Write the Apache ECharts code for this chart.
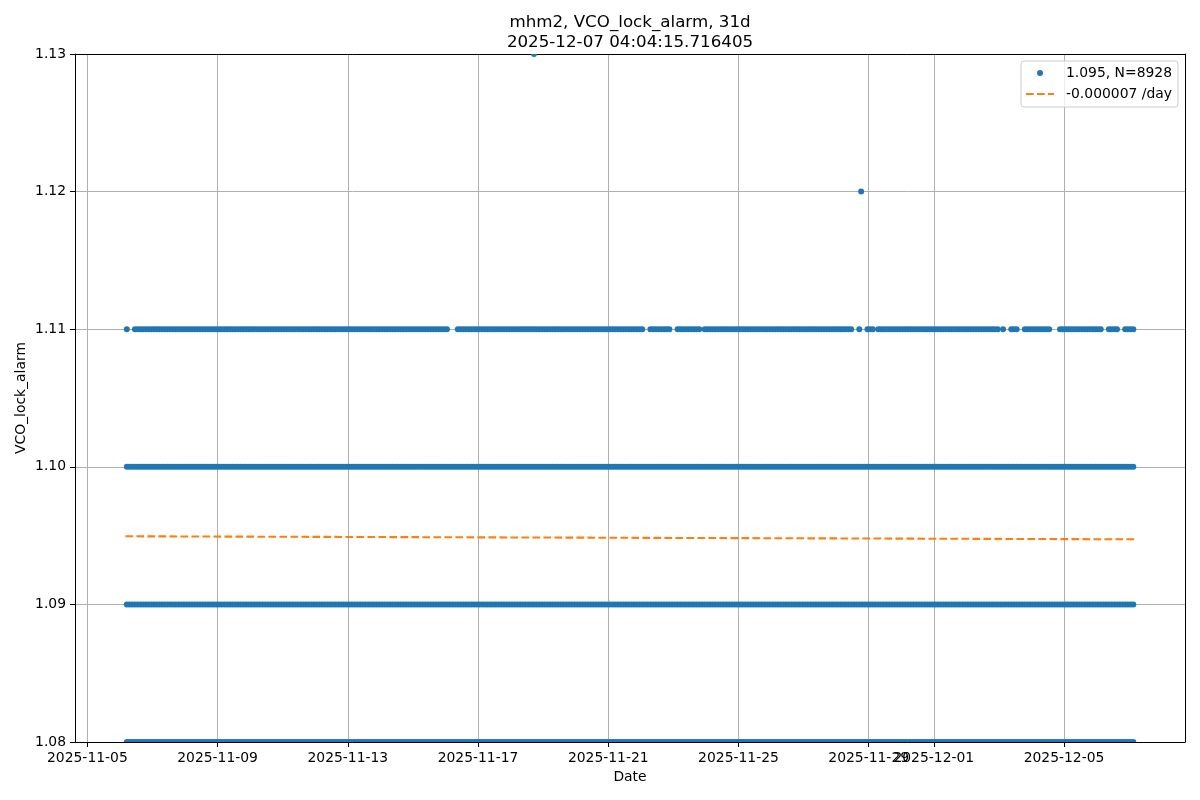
<!DOCTYPE html>
<html>
<head>
<meta charset="utf-8">
<script src="https://cdn.jsdelivr.net/npm/echarts@6/dist/echarts.min.js"></script>
<style>html,body{margin:0;padding:0;background:#fff}#chart{width:1200px;height:800px}</style>
</head>
<body>
<div id="chart"></div>
<script>
// ---------------- data ----------------
const titleText = 'mhm2, VCO_lock_alarm, 31d\n2025-12-07 04:04:15.716405';
const xAxisTitle = 'Date';
const yAxisTitle = 'VCO_lock_alarm';
const xTickLabels = ['2025-11-05', '2025-11-09', '2025-11-13', '2025-11-17', '2025-11-21',
                     '2025-11-25', '2025-11-29', '2025-12-01', '2025-12-05'];
const yTickValues = [1.08, 1.09, 1.10, 1.11, 1.12, 1.13];
const dataStart = '2025-11-06T04:04:15Z';
const dataEnd = '2025-12-07T03:59:15Z';
const binHours = 2; // each mask character = one 2-hour bin, '1' = dots visible there

// value levels seen in the picture
const levelValues = [1.08, 1.09, 1.10, 1.11];
// presence of dots per level, one 12-character string per day (31 days)
const mask108 = [
  '111111111111','111111111111','111111111111','111111111111','111111111111','111111111111',
  '111111111111','111111111111','111111111111','111111111111','111111111111','111111111111',
  '111111111111','111111111111','111111111111','111111111111','111111111111','111111111111',
  '111111111111','111111111111','111111111111','111111111111','111111111111','111111111111',
  '111111111111','111111111111','111111111111','111111111111','111111111111','111111111111',
  '111111111111'];
const mask109 = [
  '111111111111','111111111111','111111111111','111111111111','111111111111','111111111111',
  '111111111111','111111111111','111111111111','111111111111','111111111111','111111111111',
  '111111111111','111111111111','111111111111','111111111111','111111111111','111111111111',
  '111111111111','111111111111','111111111111','111111111111','111111111111','111111111111',
  '111111111111','111111111111','111111111111','111111111111','111111111111','111111111111',
  '111111111111'];
const mask110 = [
  '111111111111','111111111111','111111111111','111111111111','111111111111','111111111111',
  '111111111111','111111111111','111111111111','111111111111','111111111111','111111111111',
  '111111111111','111111111111','111111111111','111111111111','111111111111','111111111111',
  '111111111111','111111111111','111111111111','111111111111','111111111111','111111111111',
  '111111111111','111111111111','111111111111','111111111111','111111111111','111111111111',
  '111111111111'];
const mask111 = [
  '100111111111','111111111111','111111111111','111111111111','111111111111','111111111111',
  '111111111111','111111111111','111111111111','111111111110','001111111111','111111111111',
  '111111111111','111111111111','111111111111','111111111110','011111111001','111111110111',
  '111111111111','111111111111','111111111111','111111111111','111100100111','011111111111',
  '111111111111','111111111111','111111111101','001110011111','111110001111','111111111111',
  '001111001111'];

// isolated points
const outlierTimes = ['2025-11-28T18:25:00Z'];
const outlierValues = [1.12];
const topEdgeTimes = ['2025-11-18T17:15:00Z'];
const topEdgeValues = [1.13];

// linear trend
const trendValues = [1.09495, 1.09473];

const scatterName = '1.095, N=8928';
const trendName = '-0.000007 /day';

// ---------------- build ----------------
const HOUR = 3600e3;
const startMs = Date.parse(dataStart);
const endMs = Date.parse(dataEnd);
const span = endMs - startMs;
const xMin = startMs - 0.05 * span;
const xMax = endMs + 0.05 * span;
const xTickMs = xTickLabels.map(s => Date.parse(s + 'T00:00:00Z'));

function levelPoints(mask, level) {
  const pts = [];
  mask.join('').split('').forEach((c, i) => {
    if (c === '1') pts.push([startMs + (i + 0.5) * binHours * HOUR, level]);
  });
  return pts;
}
const masks = [mask108, mask109, mask110, mask111];
const bottomPts = levelPoints(masks[0], levelValues[0]);
let innerPts = [];
for (let k = 1; k < masks.length; k++) innerPts = innerPts.concat(levelPoints(masks[k], levelValues[k]));
outlierTimes.forEach((t, i) => innerPts.push([Date.parse(t), outlierValues[i]]));
const topPts = topEdgeTimes.map((t, i) => [Date.parse(t), topEdgeValues[i]]);

const FONT = 'DejaVu Sans';
const BLUE = '#1f77b4';
const ORANGE = '#ff7f0e';
const DOT = 6;
const SPINE = {show: true, onZero: false, lineStyle: {color: '#000', width: 1}};
const yMin = yTickValues[0];
const yMax = yTickValues[yTickValues.length - 1];

const chart = echarts.init(document.getElementById('chart'), null, {renderer: 'canvas'});
chart.setOption({
  animation: false,
  backgroundColor: '#ffffff',
  textStyle: {fontFamily: FONT},
  title: {
    text: titleText,
    left: 625,
    top: 8,
    textAlign: 'center',
    textStyle: {fontFamily: FONT, fontSize: 16.7, fontWeight: 'normal', color: '#000', lineHeight: 19.5}
  },
  legend: {
    orient: 'vertical',
    right: 22,
    top: 61,
    itemWidth: 28,
    itemHeight: DOT,
    itemGap: 5,
    padding: [4, 6, 5, 4],
    backgroundColor: 'rgba(255,255,255,0.8)',
    borderColor: '#cccccc',
    borderWidth: 1,
    borderRadius: 3,
    textStyle: {fontFamily: FONT, fontSize: 13.9, color: '#000', lineHeight: 16, padding: [0, 0, 0, 7]},
    data: [
      {name: scatterName, icon: 'circle'},
      {name: trendName, itemStyle: {color: 'rgba(0,0,0,0)', borderWidth: 0, opacity: 0}}
    ]
  },
  grid: {left: 75, right: 15, top: 54, bottom: 58, containLabel: false, outerBoundsMode: 'none', show: false},
  xAxis: [{
    type: 'value',
    min: xMin,
    max: xMax,
    name: xAxisTitle,
    nameLocation: 'middle',
    nameGap: 28,
    nameMoveOverlap: false,
    nameTextStyle: {fontFamily: FONT, fontSize: 13.9, color: '#000'},
    axisLine: SPINE,
    axisTick: {show: true, customValues: xTickMs, length: 5, lineStyle: {color: '#000', width: 1}},
    axisLabel: {customValues: xTickMs, margin: 9, color: '#000', fontFamily: FONT, fontSize: 13.9,
                formatter: v => new Date(v).toISOString().slice(0, 10), hideOverlap: false},
    splitLine: {show: true, lineStyle: {color: '#b0b0b0', width: 1}}
  }, {
    type: 'value', position: 'top', min: xMin, max: xMax,
    axisLine: SPINE, axisTick: {show: false}, axisLabel: {show: false}, splitLine: {show: false}
  }],
  yAxis: [{
    type: 'value',
    min: yMin,
    max: yMax,
    interval: 0.01,
    name: yAxisTitle,
    nameLocation: 'middle',
    nameGap: 47,
    nameMoveOverlap: false,
    nameTextStyle: {fontFamily: FONT, fontSize: 13.9, color: '#000'},
    axisLine: SPINE,
    axisTick: {show: true, length: 5, lineStyle: {color: '#000', width: 1}},
    axisLabel: {margin: 9, color: '#000', fontFamily: FONT, fontSize: 13.9,
                formatter: v => v.toFixed(2), showMinLabel: true, showMaxLabel: true},
    splitLine: {show: true, lineStyle: {color: '#b0b0b0', width: 1}}
  }, {
    type: 'value', position: 'right', min: yMin, max: yMax,
    axisLine: SPINE, axisTick: {show: false}, axisLabel: {show: false}, splitLine: {show: false}
  }],
  series: [
    {
      name: scatterName, type: 'scatter', data: innerPts, symbol: 'circle', symbolSize: DOT,
      itemStyle: {color: BLUE, opacity: 1}, clip: false, z: 3, large: false
    },
    {
      name: scatterName, type: 'scatter', data: bottomPts,
      symbol: 'path://M0,5 A5,5 0 0 1 10,5 Z', symbolSize: [DOT, DOT / 2], symbolOffset: [0, '-50%'],
      itemStyle: {color: BLUE, opacity: 1}, clip: false, z: 3
    },
    {
      name: scatterName, type: 'scatter', data: topPts,
      symbol: 'path://M0,0 A5,5 0 0 0 10,0 Z', symbolSize: [DOT, DOT / 2], symbolOffset: [0, '50%'],
      itemStyle: {color: BLUE, opacity: 1}, clip: false, z: 3
    },
    {
      name: trendName, type: 'line', symbol: 'none', showSymbol: false,
      data: [[startMs, trendValues[0]], [endMs, trendValues[1]]],
      lineStyle: {color: ORANGE, width: 2.1, type: [7.7, 3.3]},
      itemStyle: {color: ORANGE}, z: 4
    }
  ]
});
</script>
</body>
</html>
